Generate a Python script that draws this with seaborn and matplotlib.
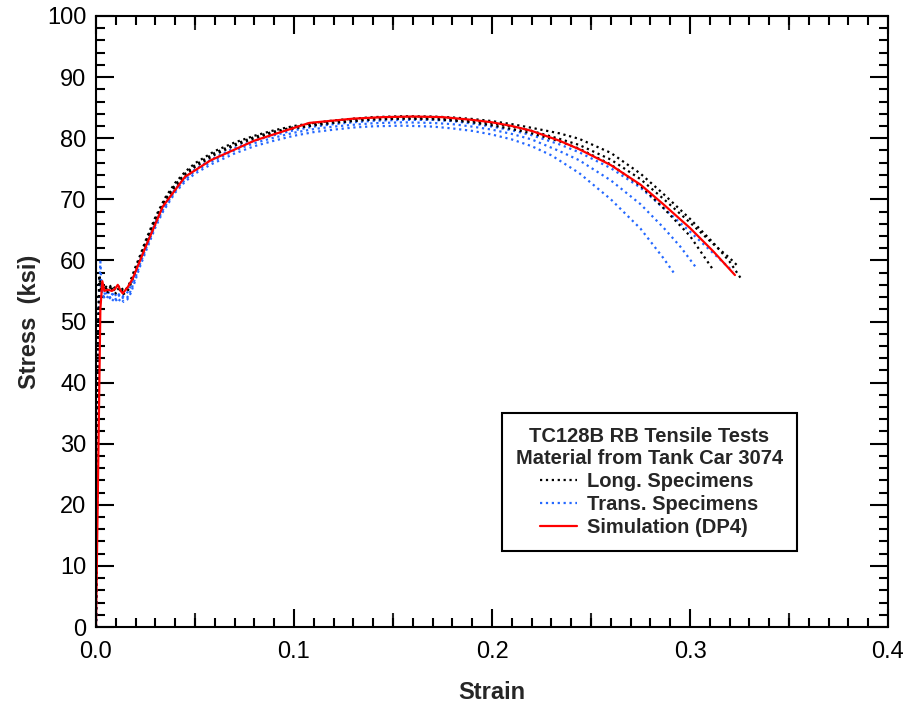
import matplotlib
matplotlib.use("Agg")
import matplotlib.pyplot as plt
from matplotlib.ticker import MultipleLocator, NullLocator
from matplotlib.lines import Line2D
import seaborn as sns
import pandas as pd

# ---------------- data (strain, stress in ksi) ----------------
long1_strain = [0, 0.0012, 0.0016, 0.0025, 0.004, 0.006, 0.008, 0.010, 0.012, 0.014,
                0.016, 0.018, 0.020, 0.0225, 0.025, 0.030, 0.035, 0.040, 0.045, 0.050,
                0.060, 0.070, 0.080, 0.090, 0.100, 0.110, 0.120, 0.130, 0.140, 0.155,
                0.170, 0.180, 0.190, 0.200, 0.210, 0.220, 0.234, 0.244, 0.260, 0.275,
                0.2865, 0.300, 0.312, 0.320, 0.326]
long1_stress = [0, 50.0, 57.6, 56.4, 56.0, 55.4, 56.0, 55.3, 55.9, 55.0,
                55.5, 57.2, 59.0, 61.0, 63.2, 67.1, 70.3, 72.7, 74.5, 75.9,
                77.9, 79.3, 80.4, 81.3, 82.0, 82.5, 82.9, 83.2, 83.45, 83.6,
                83.55, 83.4, 83.15, 82.8, 82.3, 81.7, 80.8, 79.9, 77.6, 74.2,
                70.9, 66.8, 62.8, 59.8, 56.9]

long2_strain = [0, 0.0012, 0.0017, 0.003, 0.0045, 0.0065, 0.0085, 0.0105, 0.0125, 0.0145,
                0.0165, 0.018, 0.020, 0.0225, 0.025, 0.030, 0.035, 0.040, 0.045, 0.050,
                0.060, 0.070, 0.080, 0.090, 0.100, 0.110, 0.120, 0.130, 0.140, 0.155,
                0.170, 0.180, 0.190, 0.200, 0.210, 0.220, 0.234, 0.244, 0.260, 0.275,
                0.2865, 0.300, 0.312, 0.320, 0.3244]
long2_stress = [0, 49.0, 56.8, 55.6, 55.2, 55.8, 55.0, 55.6, 54.8, 55.3,
                55.6, 56.8, 58.6, 60.7, 62.9, 66.8, 70.0, 72.4, 74.2, 75.6,
                77.6, 79.0, 80.2, 81.1, 81.8, 82.3, 82.7, 83.0, 83.25, 83.4,
                83.3, 83.1, 82.8, 82.4, 81.9, 81.2, 79.9, 78.9, 76.5, 73.3,
                70.1, 66.2, 62.6, 60.4, 59.0]

long3_strain = [0, 0.0012, 0.0018, 0.0028, 0.0042, 0.006, 0.008, 0.010, 0.012, 0.014,
                0.016, 0.018, 0.020, 0.0225, 0.025, 0.030, 0.035, 0.040, 0.045, 0.050,
                0.060, 0.070, 0.080, 0.090, 0.100, 0.110, 0.120, 0.130, 0.140, 0.155,
                0.170, 0.180, 0.190, 0.200, 0.210, 0.220, 0.234, 0.244, 0.260, 0.275,
                0.2865, 0.300, 0.3116]
long3_stress = [0, 48.0, 56.2, 55.0, 55.5, 54.8, 55.4, 54.6, 55.2, 54.5,
                55.0, 56.5, 58.3, 60.4, 62.6, 66.5, 69.7, 72.1, 73.9, 75.3,
                77.3, 78.8, 80.0, 80.9, 81.6, 82.1, 82.5, 82.8, 83.05, 83.2,
                83.1, 82.9, 82.6, 82.1, 81.5, 80.8, 79.5, 78.3, 75.7, 72.2,
                68.6, 64.0, 58.5]

trans1_strain = [0, 0.0012, 0.0022, 0.0028, 0.0035, 0.005, 0.0065, 0.008, 0.0095, 0.011,
                 0.0125, 0.014, 0.0158, 0.0175, 0.0195, 0.022, 0.0253, 0.030, 0.0337, 0.040,
                 0.045, 0.050, 0.058, 0.070, 0.080, 0.090, 0.100, 0.110, 0.120, 0.130,
                 0.140, 0.155, 0.170, 0.180, 0.190, 0.200, 0.210, 0.220, 0.230, 0.244,
                 0.260, 0.275, 0.2865, 0.2924]
trans1_stress = [0, 50.0, 59.8, 55.5, 54.2, 53.6, 54.4, 53.3, 53.9, 53.1,
                 53.8, 53.2, 53.6, 54.6, 56.4, 58.8, 61.6, 65.4, 67.9, 71.1,
                 72.9, 74.2, 75.7, 77.5, 78.7, 79.6, 80.4, 81.0, 81.4, 81.75,
                 81.95, 82.05, 81.9, 81.6, 81.2, 80.6, 79.8, 78.7, 77.2, 74.3,
                 70.0, 65.2, 60.4, 57.7]

trans2_strain = [0, 0.0012, 0.0018, 0.0026, 0.004, 0.0055, 0.007, 0.0085, 0.010, 0.0115,
                 0.013, 0.0145, 0.016, 0.0178, 0.0195, 0.022, 0.0253, 0.030, 0.0337, 0.040,
                 0.045, 0.050, 0.058, 0.070, 0.080, 0.090, 0.100, 0.110, 0.120, 0.130,
                 0.140, 0.155, 0.170, 0.180, 0.190, 0.200, 0.210, 0.220, 0.234, 0.244,
                 0.260, 0.275, 0.2865, 0.295, 0.3029]
trans2_stress = [0, 48.5, 56.5, 54.8, 54.0, 54.7, 53.8, 54.5, 53.6, 54.3,
                 53.7, 54.2, 54.0, 55.2, 56.8, 59.2, 62.0, 65.8, 68.2, 71.4,
                 73.2, 74.6, 76.1, 78.0, 79.2, 80.1, 80.9, 81.5, 81.9, 82.2,
                 82.45, 82.6, 82.5, 82.3, 81.9, 81.4, 80.7, 79.8, 77.9, 76.4,
                 73.1, 69.2, 65.4, 62.3, 58.9]

trans3_strain = [0, 0.0012, 0.0019, 0.0028, 0.004, 0.0058, 0.0075, 0.009, 0.0105, 0.012,
                 0.0135, 0.015, 0.0165, 0.018, 0.020, 0.0225, 0.0253, 0.030, 0.0337, 0.040,
                 0.045, 0.050, 0.058, 0.070, 0.080, 0.090, 0.100, 0.110, 0.120, 0.130,
                 0.140, 0.155, 0.170, 0.180, 0.190, 0.200, 0.210, 0.220, 0.234, 0.244,
                 0.260, 0.275, 0.2865, 0.300, 0.312, 0.3217]
trans3_stress = [0, 49.0, 57.0, 55.2, 54.4, 55.0, 54.2, 54.8, 54.0, 54.6,
                 54.1, 54.5, 55.0, 56.2, 58.0, 60.2, 62.4, 66.2, 68.6, 71.7,
                 73.5, 74.9, 76.5, 78.4, 79.6, 80.5, 81.3, 81.9, 82.3, 82.6,
                 82.85, 83.0, 83.0, 82.8, 82.4, 81.9, 81.3, 80.5, 79.0, 77.7,
                 75.1, 71.9, 68.6, 64.7, 61.1, 58.2]

sim_strain = [0, 0.0022, 0.0032, 0.0042, 0.006, 0.008, 0.0095, 0.011, 0.0125, 0.0135,
              0.016, 0.0185, 0.0253, 0.0337, 0.045, 0.058, 0.080, 0.1077, 0.130, 0.145,
              0.160, 0.175, 0.190, 0.200, 0.210, 0.220, 0.234, 0.244, 0.260, 0.275,
              0.2865, 0.300, 0.312, 0.3227]
sim_stress = [0, 52.0, 56.6, 55.0, 55.2, 55.0, 55.3, 56.0, 55.0, 54.6,
              55.6, 57.0, 62.4, 68.8, 73.7, 76.4, 79.6, 82.5, 83.2, 83.45,
              83.55, 83.45, 83.0, 82.6, 82.0, 81.2, 79.6, 78.2, 75.6, 72.4,
              69.2, 65.3, 61.4, 57.6]

legend_title = "TC128B RB Tensile Tests\nMaterial from Tank Car 3074"
legend_labels = ["Long. Specimens", "Trans. Specimens", "Simulation (DP4)"]

# ---------------- styling ----------------
sns.set_style("ticks")
plt.rcParams["font.family"] = ["Liberation Sans", "DejaVu Sans"]

BLACK = "#000000"
BLUE = "#2468ff"
RED = "#ff0000"

fig = plt.figure(figsize=(9.06, 7.04), dpi=100)
ax = fig.add_axes([96 / 906, 77 / 704, 792 / 906, 611 / 704])

dotted = dict(linestyle=":", linewidth=1.6)

curves_long = [(long1_strain, long1_stress), (long2_strain, long2_stress), (long3_strain, long3_stress)]
curves_trans = [(trans1_strain, trans1_stress), (trans2_strain, trans2_stress), (trans3_strain, trans3_stress)]

for xs, ys in curves_trans:
    df = pd.DataFrame({"strain": xs, "stress": ys})
    sns.lineplot(data=df, x="strain", y="stress", sort=False, estimator=None,
                 color=BLUE, ax=ax, **dotted)
for xs, ys in curves_long:
    df = pd.DataFrame({"strain": xs, "stress": ys})
    sns.lineplot(data=df, x="strain", y="stress", sort=False, estimator=None,
                 color=BLACK, ax=ax, **dotted)
df_sim = pd.DataFrame({"strain": sim_strain, "stress": sim_stress})
sns.lineplot(data=df_sim, x="strain", y="stress", sort=False, estimator=None,
             color=RED, linewidth=1.6, ax=ax)

ax.set_xlim(0, 0.4)
ax.set_ylim(0, 100)
ax.xaxis.set_major_locator(MultipleLocator(0.1))
ax.xaxis.set_minor_locator(MultipleLocator(0.01))
ax.yaxis.set_major_locator(MultipleLocator(10))
ax.yaxis.set_minor_locator(MultipleLocator(2))
ax.xaxis.set_major_formatter(matplotlib.ticker.FormatStrFormatter("%.1f"))

ax.tick_params(which="both", direction="in", top=True, right=True, width=1.5,
               colors="black", labelsize=17)
ax.tick_params(which="major", length=13)
ax.tick_params(which="minor", length=6.5)
ax.tick_params(axis="x", which="major", pad=10)
ax.tick_params(axis="y", which="major", pad=7)
for sp in ax.spines.values():
    sp.set_linewidth(1.5)
    sp.set_color("black")

# medium ticks at the half-decades of strain
for loc in ("bottom", "top"):
    sec = ax.secondary_xaxis(loc)
    sec.set_xticks([0.05, 0.15, 0.25, 0.35])
    sec.xaxis.set_minor_locator(NullLocator())
    sec.tick_params(direction="in", length=10, width=1.5, labelbottom=False,
                    labeltop=False)
    sec.spines[loc].set_visible(False)

ax.set_xlabel("Strain", fontsize=17, fontweight="bold", labelpad=13)
ax.set_ylabel("Stress  (ksi)", fontsize=17, fontweight="bold", labelpad=4)

handles = [Line2D([], [], color=BLACK, **dotted),
           Line2D([], [], color=BLUE, **dotted),
           Line2D([], [], color=RED, linewidth=1.6)]
leg = ax.legend(handles, legend_labels, title=legend_title,
                loc="lower right", bbox_to_anchor=(0.885, 0.124),
                borderaxespad=0, frameon=True, fancybox=False, framealpha=1,
                edgecolor="black", prop={"weight": "bold", "size": 14.5},
                title_fontproperties={"weight": "bold", "size": 14.5},
                handlelength=1.85, handletextpad=0.5, labelspacing=0.2,
                borderpad=0.7)
leg.get_frame().set_linewidth(1.5)
leg.get_title().set_multialignment("center")
leg.get_title().set_linespacing(1.2)

fig.savefig("out.png", dpi=100)
